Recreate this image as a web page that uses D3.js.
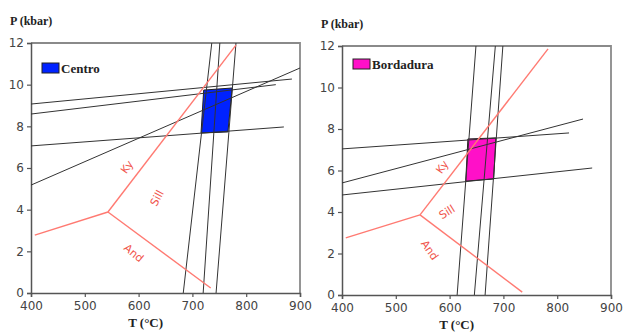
<!DOCTYPE html>
<html>
<head>
<meta charset="utf-8">
<script src="https://cdn.jsdelivr.net/npm/d3@7"></script>
<style>
  html, body { margin: 0; padding: 0; background: #fff; }
  svg { display: block; }
</style>
</head>
<body>
<svg id="chart" width="625" height="333"></svg>
<script>
/* P–T diagrams: Centro and Bordadura, with Al2SiO5 triple point */
var tTicks = [400, 500, 600, 700, 800, 900];
var pTicks = [0, 2, 4, 6, 8, 10, 12];

// Centro panel: black reaction lines [[T, P], [T, P]]
var centroFlat = [
  [[400, 9.07], [885, 10.27]],
  [[400, 8.59], [855, 10.0]],
  [[400, 5.18], [900, 10.8]],
  [[400, 7.06], [870, 7.97]]
];
var centroSteep = [
  [[683, 0], [736, 12]],
  [[720, 0], [751, 12]],
  [[744, 0], [781, 12]]
];
var centroBox = [[721, 9.74], [774, 9.84], [766, 7.73], [716, 7.68]];
var centroTriple = [543, 3.89];
var centroKyAnd = [407, 2.78];
var centroAndSill = [734, 0.24];
var centroKySill = [781, 11.9];
var centroLabels = [
  { text: 'Ky', T: 578, P: 6.05, rot: -55 },
  { text: 'Sill', T: 634, P: 4.56, rot: -62 },
  { text: 'And', T: 591, P: 1.92, rot: 40 }
];

// Bordadura panel
var bordaFlat = [
  [[400, 7.04], [822, 7.81]],
  [[400, 5.40], [848, 8.48]],
  [[400, 4.82], [865, 6.12]]
];
var bordaSteep = [
  [[614, 0], [649, 12]],
  [[646, 0], [685, 12]],
  [[666, 0], [699, 12]]
];
var bordaBox = [[634, 7.52], [686, 7.57], [682, 5.59], [630, 5.49]];
var bordaTriple = [545, 3.86];
var bordaKyAnd = [407, 2.75];
var bordaAndSill = [735, 0.14];
var bordaKySill = [783, 11.86];
var bordaLabels = [
  { text: 'Ky', T: 586, P: 6.17, rot: -55 },
  { text: 'Sill', T: 595, P: 4.0, rot: -32 },
  { text: 'And', T: 563, P: 2.17, rot: 55 }
];

var svg = d3.select('#chart');
var serif = '"Liberation Serif", "DejaVu Serif", serif';
var sans = '"DejaVu Sans", Verdana, sans-serif';

function drawPanel(opt) {
  var x = d3.scaleLinear().domain([400, 900]).range(opt.xr);
  var y = d3.scaleLinear().domain([0, 12]).range(opt.yr);
  var g = svg.append('g');
  var line = d3.line().x(function (d) { return x(d[0]); }).y(function (d) { return y(d[1]); });

  /* frame: top and right */
  g.append('path')
    .attr('d', 'M' + x(400) + ',' + y(12) + 'H' + x(900) + 'V' + y(0))
    .attr('fill', 'none').attr('stroke', '#8a8a8a').attr('stroke-width', 1.8);

  /* axes */
  var xa = g.append('g').attr('transform', 'translate(0,' + y(0) + ')')
    .call(d3.axisBottom(x).tickValues(tTicks).tickSize(4).tickPadding(4));
  var ya = g.append('g').attr('transform', 'translate(' + x(400) + ',0)')
    .call(d3.axisLeft(y).tickValues(pTicks).tickSize(4).tickPadding(3));
  [xa, ya].forEach(function (a) {
    a.select('.domain').attr('stroke', '#555').attr('stroke-width', 1.5);
    a.selectAll('.tick line').attr('stroke', '#555').attr('stroke-width', 1.2);
    a.selectAll('.tick text').attr('fill', '#444')
      .style('font-family', sans).style('font-size', '12px');
  });

  /* field box */
  g.append('path').datum(opt.box)
    .attr('d', function (d) { return line(d) + 'Z'; })
    .attr('fill', opt.boxColor).attr('stroke', '#222').attr('stroke-width', 1);

  /* reaction lines */
  g.selectAll('.flat').data(opt.flat).enter().append('path')
    .attr('d', line).attr('fill', 'none')
    .attr('stroke', '#333').attr('stroke-width', 1);
  g.selectAll('.steep').data(opt.steep).enter().append('path')
    .attr('d', line).attr('fill', 'none')
    .attr('stroke', '#333').attr('stroke-width', 1);

  /* Al2SiO5 triple point */
  var red = '#ff7a72';
  [opt.kyAnd, opt.andSill, opt.kySill].forEach(function (end) {
    g.append('path').datum([opt.triple, end])
      .attr('d', line).attr('fill', 'none')
      .attr('stroke', red).attr('stroke-width', 1.4);
  });
  g.selectAll('.lbl').data(opt.labels).enter().append('text')
    .attr('transform', function (d) {
      return 'translate(' + x(d.T) + ',' + y(d.P) + ') rotate(' + d.rot + ')';
    })
    .attr('text-anchor', 'middle').attr('dy', '0.35em')
    .style('font-family', sans).style('font-size', '11px')
    .attr('fill', '#f0554c').text(function (d) { return d.text; });

  /* legend */
  var lx = x(400) + 11, ly = y(12) + opt.legendDy;
  g.append('rect').attr('x', lx).attr('y', ly).attr('width', 17).attr('height', 10)
    .attr('fill', opt.boxColor).attr('stroke', '#222').attr('stroke-width', 1);
  g.append('text').attr('x', lx + 19).attr('y', ly + 10)
    .style('font-family', serif).style('font-weight', 'bold').style('font-size', '13px')
    .attr('fill', '#222').text(opt.name);

  /* axis titles */
  g.append('text').attr('x', x(400) - 21).attr('y', y(12) - 18)
    .style('font-family', serif).style('font-weight', 'bold').style('font-size', '12px')
    .attr('fill', '#222').text('P (kbar)');
  g.append('text').attr('x', x(600) + 7).attr('y', y(0) + 34)
    .attr('text-anchor', 'middle')
    .style('font-family', serif).style('font-weight', 'bold').style('font-size', '13px')
    .attr('fill', '#222').text('T (\u00B0C)');
}

drawPanel({
  xr: [31, 300], yr: [293, 43], name: 'Centro', boxColor: '#0022ff', legendDy: 20,
  flat: centroFlat, steep: centroSteep, box: centroBox,
  triple: centroTriple, kyAnd: centroKyAnd, andSill: centroAndSill, kySill: centroKySill,
  labels: centroLabels
});
drawPanel({
  xr: [342, 611], yr: [295, 46], name: 'Bordadura', boxColor: '#ff10c8', legendDy: 13,
  flat: bordaFlat, steep: bordaSteep, box: bordaBox,
  triple: bordaTriple, kyAnd: bordaKyAnd, andSill: bordaAndSill, kySill: bordaKySill,
  labels: bordaLabels
});
</script>
</body>
</html>
